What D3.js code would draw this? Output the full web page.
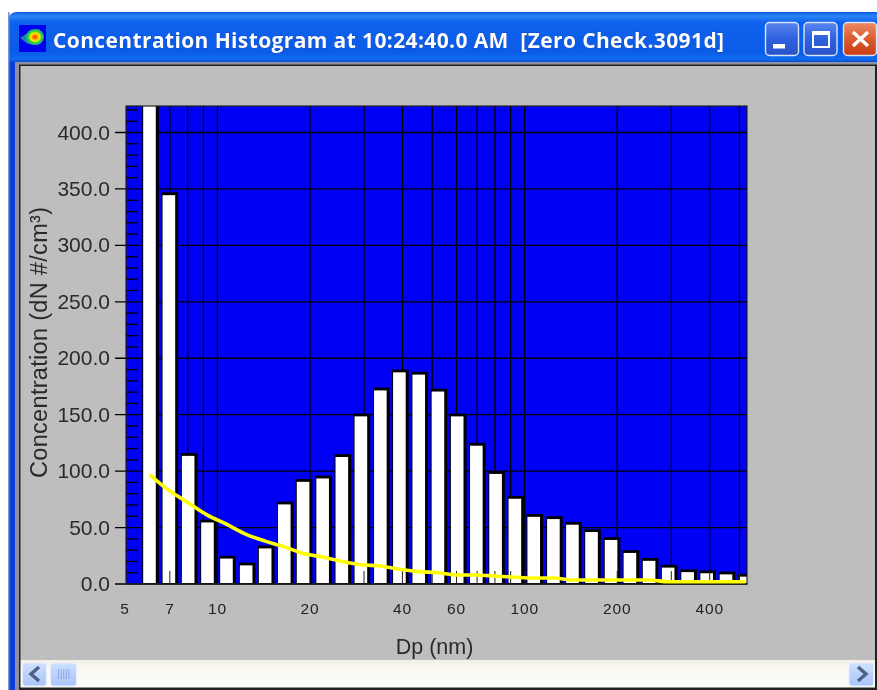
<!DOCTYPE html>
<html><head><meta charset="utf-8">
<script src="https://cdn.jsdelivr.net/npm/d3@7"></script>
<style>html,body{margin:0;padding:0;background:#fff;overflow:hidden}svg{display:block;filter:blur(0.4px)}text{font-family:"Liberation Sans",Arial,sans-serif}</style>
</head><body><svg id="c" width="877" height="690"></svg>
<script>
const titleText = "Concentration Histogram at 10:24:40.0 AM  [Zero Check.3091d]";
const yLabel = "Concentration (dN #/cm³)";
const xLabel = "Dp (nm)";
const diameters = [6.01,6.95,8.03,9.28,10.7,12.4,14.3,16.5,19.0,22.0,25.4,29.3,33.9,39.1,45.2,52.2,60.3,69.6,80.4,92.9,107,124,143,165,191,220,254,293,339,391,452,522];
const concentration = [440,347,116,57,25,19,34,73,93,96,115,151,174,190,188,173,151,125,100,78,62,60,55,48.5,41.5,30,23,17,13,12,11,9];
const fitCurve = [97,83,72,61,53,44,38,33,27,24,20,17,16,13,11,10,8,8,7,6,5.3,5.3,3.5,3.5,3.5,3.5,3.5,2,2,2,2,2];
const xTicksLabelled = [5,7,10,20,40,60,100,200,400];
const xGrid = [6,7,8,9,10,20,30,40,50,60,70,80,90,100,200,300,400,500];
const xInnerTicks = [7,30,40,50,60,70,80,90,100,200,300,400,500];
const yMajor = [0,50,100,150,200,250,300,350,400];
const yMinor = d3.range(0,430,10).filter(v=>v%50!==0);

const svg = d3.select("#c");
const plot = {l:126,r:747,t:106,b:584};
const x = d3.scaleLog().domain([5.04,529]).range([plot.l,plot.r]);
const y = d3.scaleLinear().domain([0,423.5]).range([plot.b,plot.t]);

// ---- defs
const defs = svg.append("defs");
function grad(id,stops,horizontal){
  const g=defs.append("linearGradient").attr("id",id).attr("x1",0).attr("y1",0).attr("x2",horizontal?1:0).attr("y2",horizontal?0:1);
  stops.forEach(s=>g.append("stop").attr("offset",s[0]).attr("stop-color",s[1]));
}
grad("tbar",[[0,"#0a5ce0"],[0.08,"#2a86f6"],[0.2,"#0f62ee"],[0.8,"#0a5ce6"],[0.94,"#0f6af2"],[1,"#0a50c8"]]);
grad("side",[[0,"#0a3cd8"],[0.5,"#0a50ea"],[1,"#0a30b0"]],true);
grad("sb",[[0,"#f1efe6"],[0.3,"#f8f7f1"],[1,"#fdfdfb"]]);
grad("btnB",[[0,"#5a86ee"],[0.5,"#2e60de"],[1,"#2a52c8"]]);
grad("btnR",[[0,"#ec8a64"],[0.5,"#dc5a30"],[1,"#c83c10"]]);
grad("arrow",[[0,"#cfe0ff"],[1,"#a9c4fa"]]);
const rg=defs.append("radialGradient").attr("id","blob");
[[0,"#ff2a00"],[0.25,"#ff8800"],[0.5,"#f6f000"],[0.75,"#30d040"],[1,"#20a890"]].forEach(s=>rg.append("stop").attr("offset",s[0]).attr("stop-color",s[1]));

// ---- window chrome
svg.append("path").attr("d","M8,690V22Q8,12 18,12H877V690Z").attr("fill","url(#side)");
svg.append("path").attr("d","M8,62V22Q8,12 18,12H877V62Z").attr("fill","url(#tbar)");
svg.append("rect").attr("x",8).attr("y",12).attr("width",1.5).attr("height",678).attr("fill","#7f8fd0");
svg.append("rect").attr("x",15).attr("y",62).attr("width",862).attr("height",628).attr("fill","#8d90a4");
svg.append("rect").attr("x",19).attr("y",64.5).attr("width",858).attr("height",626).attr("fill","#222");
svg.append("rect").attr("x",20.5).attr("y",66).attr("width",854.5).attr("height",594).attr("fill","#bebebe");
svg.append("rect").attr("x",20.5).attr("y",660).attr("width",854.5).attr("height",27.5).attr("fill","url(#sb)");

// title icon
svg.append("rect").attr("x",19).attr("y",25).attr("width",27).attr("height",27).attr("fill","#0000f0");
svg.append("path").attr("d","M20,38L29,32L39,29L44,37L38,45L28,44Z").attr("fill","#20a898").attr("opacity",.8);
svg.append("ellipse").attr("cx",35).attr("cy",37).attr("rx",9).attr("ry",8).attr("fill","url(#blob)");
// title
svg.append("text").attr("x",53).attr("y",48).attr("textLength",671).attr("lengthAdjust","spacing")
  .style("font-family","'Open Sans',sans-serif").attr("font-weight",700).attr("font-size",21).attr("fill","#fff")
  .style("white-space","pre").style("paint-order","stroke").attr("stroke","#0a2f9c").attr("stroke-width",0.5).text(titleText);
// window buttons
function btn(bx,fillId){ svg.append("rect").attr("x",bx).attr("y",22.5).attr("width",33).attr("height",33).attr("rx",4).attr("fill",`url(#${fillId})`).attr("stroke","#d8e4fa").attr("stroke-width",1.4); }
btn(765.5,"btnB");btn(804,"btnB");btn(843.5,"btnR");
svg.append("rect").attr("x",773).attr("y",44).attr("width",12).attr("height",4.5).attr("fill","#fff");
svg.append("rect").attr("x",813).attr("y",32).attr("width",16).attr("height",15).attr("fill","none").attr("stroke","#fff").attr("stroke-width",2);
svg.append("rect").attr("x",812).attr("y",31).attr("width",18).attr("height",4).attr("fill","#fff");
svg.append("path").attr("d","M853,32L868,46M868,32L853,46").attr("stroke","#fff").attr("stroke-width",3.4);

// scrollbar
function sbBtn(bx,w){ svg.append("rect").attr("x",bx).attr("y",663).attr("width",w).attr("height",23).attr("rx",3).attr("fill","url(#arrow)").attr("stroke","#e6eeff"); }
sbBtn(22.5,24);sbBtn(50.5,26);sbBtn(849,24.5);
svg.append("path").attr("d","M39,667L31,674L39,681").attr("fill","none").attr("stroke","#4d6185").attr("stroke-width",3.4);
svg.append("path").attr("d","M858,667L866,674L858,681").attr("fill","none").attr("stroke","#4d6185").attr("stroke-width",3.4);
d3.range(5).forEach(i=>svg.append("rect").attr("x",58+i*2.6).attr("y",669).attr("width",1).attr("height",10).attr("fill","#8fa8e0"));

// ---- plot background
svg.append("rect").attr("x",plot.l).attr("y",plot.t).attr("width",plot.r-plot.l).attr("height",plot.b-plot.t).attr("fill","#0000f5");
const g = svg.append("g");

// grid
g.selectAll(".gx").data(xGrid).join("line").attr("x1",d=>x(d)).attr("x2",d=>x(d)).attr("y1",plot.t).attr("y2",plot.b).attr("stroke","#000").attr("stroke-width",1.3);
g.selectAll(".gy").data(yMajor).join("line").attr("x1",plot.l-11).attr("x2",plot.r).attr("y1",d=>y(d)).attr("y2",d=>y(d)).attr("stroke","#000").attr("stroke-width",1.3);
g.selectAll(".my").data(yMinor).join("line").attr("x1",plot.l).attr("x2",plot.l+12).attr("y1",d=>y(d)).attr("y2",d=>y(d)).attr("stroke","#000").attr("stroke-width",1.3);

// bars
defs.append("clipPath").attr("id","pc").append("rect").attr("x",plot.l).attr("y",plot.t).attr("width",plot.r-plot.l).attr("height",plot.b-plot.t);
const bars = g.append("g").attr("clip-path","url(#pc)");
const hw = 6.3;
bars.selectAll(".o").data(concentration).join("rect")
  .attr("x",(d,i)=>x(diameters[i])-hw-1).attr("width",2*hw+4)
  .attr("y",d=>y(d)).attr("height",d=>plot.b-y(d)).attr("fill","#000");
bars.selectAll(".i").data(concentration).join("rect")
  .attr("x",(d,i)=>x(diameters[i])-hw).attr("width",2*hw)
  .attr("y",d=>y(d)+2.8).attr("height",d=>Math.max(0,plot.b-y(d)-3.8)).attr("fill","#fff");

// inner x ticks above bars
g.selectAll(".ix").data(xInnerTicks).join("line").attr("x1",d=>x(d)).attr("x2",d=>x(d)).attr("y1",plot.b-13).attr("y2",plot.b).attr("stroke","#222").attr("stroke-width",1);

// frame
svg.append("rect").attr("x",plot.l).attr("y",plot.t).attr("width",plot.r-plot.l).attr("height",plot.b-plot.t).attr("fill","none").attr("stroke","#222").attr("stroke-width",1.2);

// curve
svg.append("path").datum(fitCurve)
  .attr("d",d3.line().x((d,i)=>x(diameters[i])).y(d=>y(d)).curve(d3.curveMonotoneX))
  .attr("fill","none").attr("stroke","#ffff00").attr("stroke-width",3.6);

// labels
const f = d3.format(".1f");
svg.selectAll(".yl").data(yMajor).join("text").attr("x",110).attr("y",d=>y(d)+7).attr("text-anchor","end").attr("font-size",21).attr("fill","#2a2a2a").text(f);
svg.selectAll(".xl").data(xTicksLabelled).join("text").attr("x",d=>x(d)).attr("y",614).attr("text-anchor","middle").attr("font-size",15.5).attr("letter-spacing",0.8).attr("fill","#222").text(d=>d);
svg.append("text").attr("x",434.5).attr("y",654).attr("text-anchor","middle").attr("font-size",21.5).attr("fill","#2a2a2a").text(xLabel);
svg.append("text").attr("transform","translate(47,342.5) rotate(-90)").attr("text-anchor","middle").attr("textLength",271).attr("font-size",23.5).attr("fill","#2a2a2a").text(yLabel);
</script></body></html>
